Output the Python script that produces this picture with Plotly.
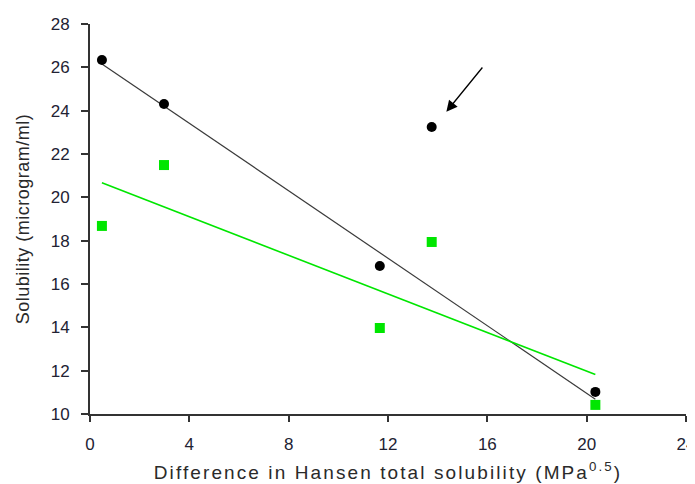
import numpy as np
import plotly.graph_objects as go

# Data
hansen_diff = [0.48, 2.98, 11.67, 13.76, 20.35]
solubility_black = [26.34, 24.31, 16.83, 23.25, 11.02]
solubility_green = [18.68, 21.49, 13.97, 17.94, 10.42]
outlier_index = 3  # arrowed point, excluded from the black fit

x_ticks = [0, 4, 8, 12, 16, 20, 24]
y_ticks = [10, 12, 14, 16, 18, 20, 22, 24, 26, 28]

x = np.array(hansen_diff)
yb = np.array(solubility_black)
yg = np.array(solubility_green)
mask = np.ones(len(x), dtype=bool)
mask[outlier_index] = False

pb = np.polyfit(x[mask], yb[mask], 1)
pg = np.polyfit(x, yg, 1)
xl = np.array([x.min(), x.max()])

GREEN = "#00e600"
fig = go.Figure()
fig.add_trace(go.Scatter(x=xl, y=np.polyval(pb, xl), mode="lines",
                         line=dict(color="#3a3a3a", width=1.2), hoverinfo="skip"))
fig.add_trace(go.Scatter(x=xl, y=np.polyval(pg, xl), mode="lines",
                         line=dict(color=GREEN, width=1.6), hoverinfo="skip"))
fig.add_trace(go.Scatter(x=x, y=yb, mode="markers",
                         marker=dict(symbol="circle", size=10, color="black")))
fig.add_trace(go.Scatter(x=x, y=yg, mode="markers",
                         marker=dict(symbol="square", size=10, color=GREEN)))

# Arrow pointing to the outlier
fig.add_annotation(x=14.35, y=23.95, ax=15.85, ay=26.06, xref="x", yref="y",
                   axref="x", ayref="y", text="", showarrow=True,
                   arrowhead=2, arrowsize=1.7, arrowwidth=1.3, arrowcolor="black")

FONT = "Arial, Liberation Sans, sans-serif"
tick_font = dict(family=FONT, size=17, color="#222233")
# The page body keeps its default 8px margin; the figure is offset by 8px.
fig.update_layout(
    width=695, height=484,
    margin=dict(l=82, r=17, t=16, b=78),
    paper_bgcolor="white", plot_bgcolor="white",
    showlegend=False,
    font=dict(family=FONT),
)
fig.update_xaxes(range=[0, 24], tickvals=x_ticks, showgrid=False, zeroline=False,
                 showline=True, linecolor="#333333", linewidth=2, automargin=False,
                 ticks="outside", ticklen=6, tickwidth=2, tickcolor="#333333",
                 tickfont=tick_font, ticklabelstandoff=8, ticklabeloverflow="allow",
                 title=dict(text='<span style="letter-spacing:2.1px">Difference in Hansen total solubility (MPa<sup>0.5</sup>)</span>',
                            font=dict(family=FONT, size=19, color="#2a2a2a"),
                            standoff=12))
fig.update_yaxes(range=[10, 28], tickvals=y_ticks, showgrid=False, zeroline=False,
                 showline=True, linecolor="#333333", linewidth=2, automargin=False,
                 ticks="outside", ticklen=7, tickwidth=2, tickcolor="#333333",
                 tickfont=tick_font, ticklabelstandoff=8,
                 title=dict(text='<span style="letter-spacing:0.5px">Solubility (microgram/ml)</span>',
                            font=dict(family=FONT, size=18, color="#2a2a2a"),
                            standoff=16))

fig.write_html("out.html", config={"displayModeBar": False})
